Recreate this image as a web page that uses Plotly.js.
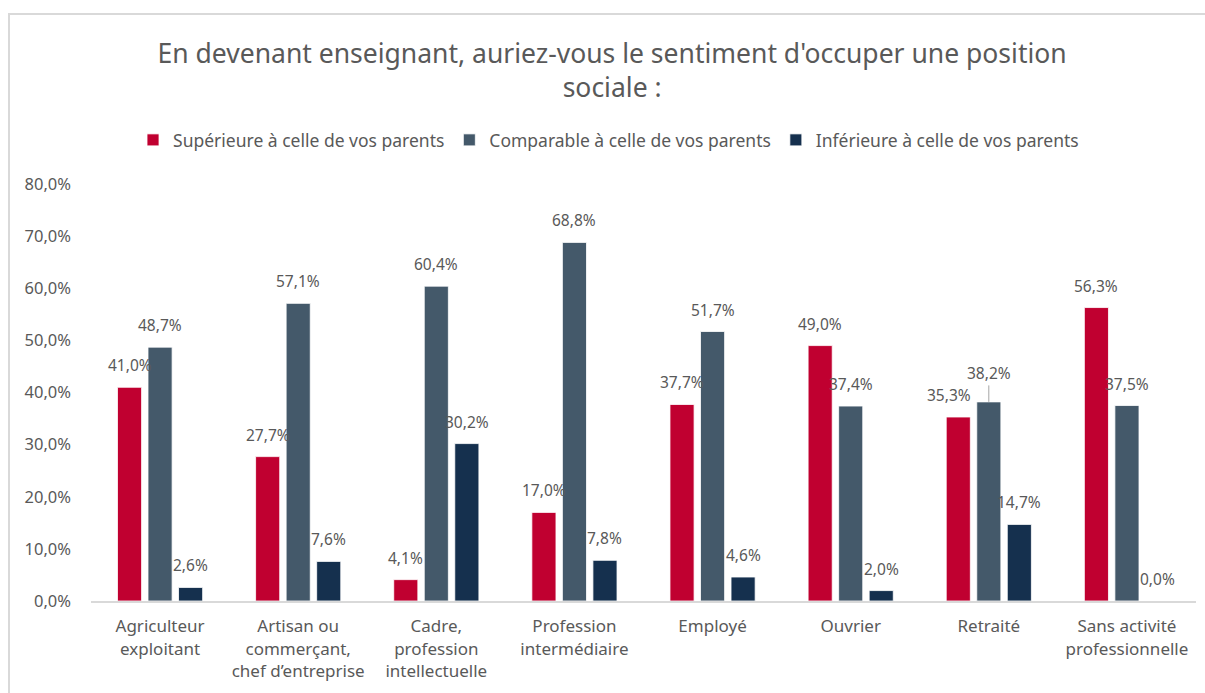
<!DOCTYPE html>
<html>
<head>
<meta charset="utf-8">
<script src="https://cdn.plot.ly/plotly-3.0.1.min.js"></script>
<style>
  html, body { margin: 0; padding: 0; background: #fff; }
  #wrap { position: relative; width: 1205px; height: 693px; overflow: hidden; }
  #chart { position: absolute; left: 0; top: 0; width: 1205px; height: 693px; }
  #frame { position: absolute; left: 8px; top: 13px; width: 1300px; height: 800px;
           border-left: 2px solid #D9D9D9; border-top: 2px solid #D9D9D9; pointer-events: none; }
</style>
</head>
<body>
<div id="wrap">
  <div id="chart"></div>
  <div id="frame"></div>
</div>
<script>
const categories = [
  "Agriculteur<br>exploitant",
  "Artisan ou<br>commerçant,<br>chef d’entreprise",
  "Cadre,<br>profession<br>intellectuelle",
  "Profession<br>intermédiaire",
  "Employé",
  "Ouvrier",
  "Retraité",
  "Sans activité<br>professionnelle"
];
const seriesNames = [
  "Supérieure à celle de vos parents",
  "Comparable à celle de vos parents",
  "Inférieure à celle de vos parents"
];
const superieure = [41.0, 27.7, 4.1, 17.0, 37.7, 49.0, 35.3, 56.3];
const comparable = [48.7, 57.1, 60.4, 68.8, 51.7, 37.4, 38.2, 37.5];
const inferieure = [2.6, 7.6, 30.2, 7.8, 4.6, 2.0, 14.7, 0.0];
const colors = ["#C00030", "#44596A", "#15304E"];

const allSeries = [superieure, comparable, inferieure];
const xIdx = categories.map((c, i) => i);
const fmt = v => v.toFixed(1).replace('.', ',') + '%';

const traces = allSeries.map((vals, s) => ({
  type: 'bar',
  name: seriesNames[s],
  x: xIdx,
  y: vals,
  marker: { color: colors[s], line: { color: '#FFFFFF', width: 0.8 } },
  hoverinfo: 'none'
}));

const slot = 30.5;
const annotations = [];
allSeries.forEach((vals, s) => {
  vals.forEach((v, j) => {
    const a = {
      x: j, y: v, xref: 'x', yref: 'y',
      text: fmt(v),
      showarrow: false,
      xanchor: 'center', yanchor: 'bottom',
      xshift: (s - 1) * slot, yshift: 9,
      font: { family: 'Noto Sans', size: 15.5, color: '#595959' }
    };
    // Retraité: labels moved apart in the original, one with a leader line
    if (j === 6 && s === 0) { a.xshift += -9; }
    if (j === 6 && s === 1) {
      a.showarrow = true; a.arrowhead = 0; a.arrowwidth = 1; a.arrowcolor = '#A6A6A6';
      a.ax = 0; a.ay = -29; a.yshift = 0; a.xshift = 0;
      a.standoff = 0; a.startstandoff = 0;
      delete a.xanchor; delete a.yanchor;
    }
    annotations.push(a);
  });
});

const layout = {
  width: 1205, height: 693,
  paper_bgcolor: '#FFFFFF', plot_bgcolor: '#FFFFFF',
  margin: { l: 91, r: 9, t: 184, b: 92 },
  separators: ', ',
  font: { family: 'Noto Sans', color: '#595959', size: 15 },
  title: {
    text: "En devenant enseignant, auriez-vous le sentiment d'occuper une position<br>sociale :",
    font: { family: 'Noto Sans', size: 26.5, color: '#595959' },
    x: 0.508, xref: 'container', xanchor: 'center',
    y: 1 - 63 / 693, yref: 'container', yanchor: 'middle'
  },
  barmode: 'group',
  bargap: 0.337,
  bargroupgap: 0.21,
  showlegend: true,
  legend: {
    orientation: 'h',
    xref: 'container', yref: 'container',
    x: 0.505, xanchor: 'center',
    y: 1 - 140 / 693, yanchor: 'middle',
    font: { family: 'Noto Sans', size: 17.5, color: '#595959' },
    itemwidth: 30,
    traceorder: 'normal'
  },
  xaxis: {
    type: 'linear',
    range: [-0.5, 7.5],
    tickvals: xIdx,
    ticktext: categories,
    showgrid: false, zeroline: false,
    showline: true, linecolor: '#D9D9D9', linewidth: 2,
    ticks: '',
    ticklabelstandoff: 9,
    tickfont: { family: 'Noto Sans', size: 17, color: '#595959' },
    fixedrange: true
  },
  yaxis: {
    range: [0, 80],
    dtick: 10, tick0: 0,
    tickformat: '.1f', ticksuffix: '%',
    showgrid: false, zeroline: false, showline: false,
    ticks: '',
    ticklabelstandoff: 19,
    tickfont: { family: 'Noto Sans', size: 16.5, color: '#595959' },
    fixedrange: true
  },
  annotations: annotations
};

Plotly.newPlot('chart', traces, layout, { displayModeBar: false, staticPlot: true });
</script>
</body>
</html>
